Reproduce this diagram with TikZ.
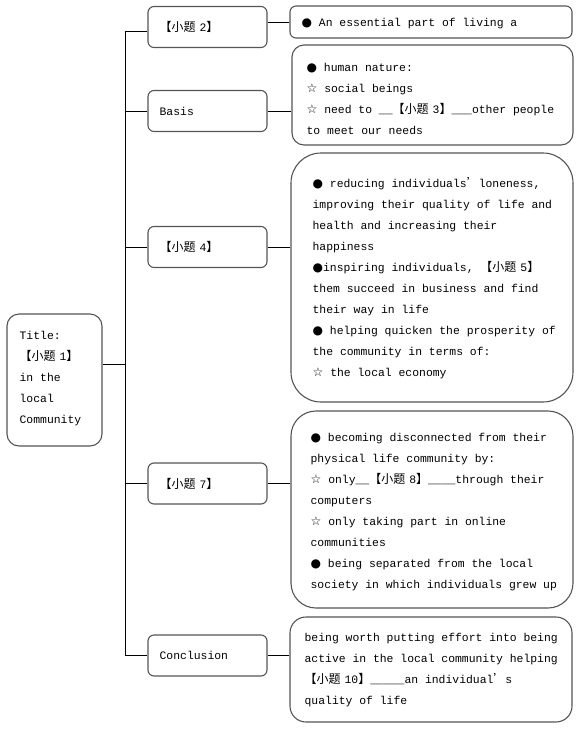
\documentclass[tikz,border=0pt]{standalone}
\usepackage{fontspec}
\setmainfont{Liberation Mono}
\newfontfamily\cjk{Noto Sans CJK SC}
\newfontfamily\symf{DejaVu Sans}
\newcommand{\bdot}{{\symf\fontsize{12}{21}\selectfont ●}}
\newcommand{\wstar}{{\symf\fontsize{12}{21}\selectfont ☆}}
\newcommand{\xt}[1]{{\cjk\fontsize{12}{21}\selectfont 【小题}\hspace{4pt}#1{\cjk\fontsize{12}{21}\selectfont 】}}
\newcommand{\apos}{{\cjk\fontsize{12}{21}\selectfont ’}}
\definecolor{boxline}{HTML}{555555}
\tikzset{
  box/.style={draw=boxline, line width=1.1pt, fill=white, rectangle, inner sep=0pt},
  lbox/.style={box, rounded corners=6pt, minimum width=119pt, minimum height=41pt},
  txt/.style={inner sep=0pt, align=left, anchor=west, font={\fontsize{11.4}{21}\selectfont}},
  conn/.style={draw=black, line width=0.9pt}
}
\begin{document}
\begin{tikzpicture}[x=1pt,y=-1pt]
\useasboundingbox (0,0) rectangle (582,732);
% trunk
\coordinate (tt) at (125,31);
\coordinate (tb) at (125,655.5);
\coordinate (tj) at (125,364);
% title
\node[box, rounded corners=12pt, minimum width=95pt, minimum height=132pt] (t) at (54.5,380) {};
\node[txt] (tt1) at ([xshift=13pt,yshift=1pt]t.west) {Title:\\\xt{1}\\in the\\local\\Community};
% left boxes
\node[lbox] (l2) at (207.5,27) {};
\node[txt] (l2t) at ([xshift=12pt]l2.west) {\xt{2}};
\node[lbox] (ba) at (207.5,111) {};
\node[txt] (bat) at ([xshift=12pt]ba.west) {Basis};
\node[lbox] (l4) at (207.5,247) {};
\node[txt] (l4t) at ([xshift=12pt]l4.west) {\xt{4}};
\node[lbox] (l7) at (207.5,483.5) {};
\node[txt] (l7t) at ([xshift=12pt]l7.west) {\xt{7}};
\node[lbox] (co) at (207.5,655.5) {};
\node[txt] (cot) at ([xshift=12pt]co.west) {Conclusion};
% right boxes
\node[box, rounded corners=6pt, minimum width=282pt, minimum height=32pt] (ra) at (431,22) {};
\node[txt] (rat) at ([xshift=12pt,yshift=-1.5pt]ra.west) {\bdot\ An essential part of living a};
\node[box, rounded corners=12pt, minimum width=281pt, minimum height=100pt] (rb) at (432.5,95) {};
\node[txt] (rbt) at ([xshift=15pt,yshift=-3.5pt]rb.west) {\bdot\ human nature:\\\wstar\ social beings\\\wstar\ need to \_\_\xt{3}\_\_\_other people\\to meet our needs};
\node[box, rounded corners=30pt, minimum width=282pt, minimum height=249pt] (rc) at (432,277.5) {};
\node[txt] (rct) at ([xshift=22pt,yshift=-1pt]rc.west) {\bdot\ reducing individuals\apos loneness,\\improving their quality of life and\\health and increasing their\\happiness\\\bdot inspiring individuals, \xt{5}\\them succeed in business and find\\their way in life\\\bdot\ helping quicken the prosperity of\\the community in terms of:\\\wstar\ the local economy};
\node[box, rounded corners=25pt, minimum width=282pt, minimum height=197pt] (rd) at (432,509.5) {};
\node[txt] (rdt) at ([xshift=20pt,yshift=-2.5pt]rd.west) {\bdot\ becoming disconnected from their\\physical life community by:\\\wstar\ only\_\_\xt{8}\_\_\_\_through their\\computers\\\wstar\ only taking part in online\\communities\\\bdot\ being separated from the local\\society in which individuals grew up};
\node[box, rounded corners=16pt, minimum width=282pt, minimum height=105pt] (re) at (431,669.5) {};
\node[txt] (ret) at ([xshift=15pt,yshift=-1pt]re.west) {being worth putting effort into being\\active in the local community helping\\\xt{10}\_\_\_\_\_an individual\apos s\\quality of life};
% connectors
\draw[conn] (tt -| l2.west) -- (tt) -- (tb) -- (tb -| co.west);
\draw[conn] (tj -| t.east) -- (tj);
\draw[conn] (ba.west) -- (ba.west -| tt);
\draw[conn] (l4.west) -- (l4.west -| tt);
\draw[conn] (l7.west) -- (l7.west -| tt);
\draw[conn] (ra.west) -- (ra.west -| l2.east);
\draw[conn] (ba.east) -- (ba.east -| rb.west);
\draw[conn] (l4.east) -- (l4.east -| rc.west);
\draw[conn] (l7.east) -- (l7.east -| rd.west);
\draw[conn] (co.east) -- (co.east -| re.west);
\end{tikzpicture}
\end{document}
